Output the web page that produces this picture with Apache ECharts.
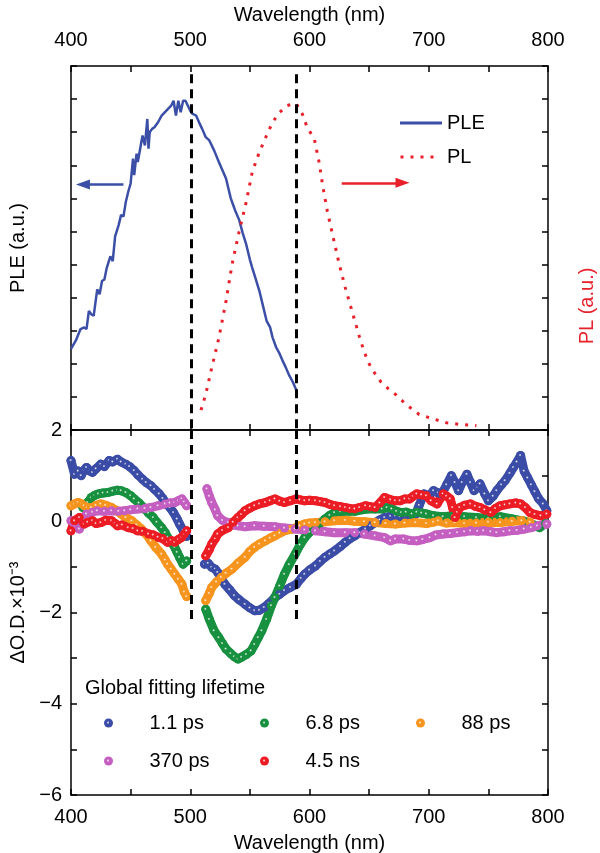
<!DOCTYPE html>
<html>
<head>
<meta charset="utf-8">
<script src="https://cdn.jsdelivr.net/npm/echarts@6/dist/echarts.min.js"></script>
<style>html,body{margin:0;padding:0;background:#fff}#c{width:600px;height:853px}</style>
</head>
<body>
<div id="c"></div>
<script>
// ---------- Top panel data ----------
const pleWl = [400,404,408,411,413,415,417,419,422,424,426,428,430,433,435,437,440,442,444,446,448,450,452,453,455,456,458,460,462,464,465,466,468,470,473,476,480,484,486,488,490,492,494,496,498,500,502,505,508,510,513,516,520,524,527,530,532,534,536,538,541,544,547,550,552,555,558,561,564,567,569,572,575,578,580,583,586,589];
const pleVal = [2.45,2.7,3.05,3.1,3.05,3.6,3.5,3.45,4.25,4.1,4.5,4.55,4.9,5.25,5.1,5.85,6.2,6.5,6.45,6.9,7.2,7.45,8.2,7.7,8.35,8.1,8.5,8.9,8.6,9.4,8.5,9.0,9.1,9.15,9.3,9.5,9.65,9.8,9.95,9.5,9.95,9.6,9.95,9.95,9.8,9.65,9.55,9.5,9.25,9.1,8.85,8.75,8.45,8.1,7.85,7.6,7.3,7.0,6.8,6.6,6.35,5.95,5.6,5.15,4.9,4.55,4.2,3.75,3.3,3.1,2.8,2.5,2.3,2.05,1.9,1.65,1.45,1.2];
const plWl = [509,513,518,524,530,535,541,547,552,558,564,569,575,581,586,589,594,598,604,608,611,615,620,625,630,634,638,642,646,650,655,660,666,673,681,692,704,715,726,740];
const plVal = [0.6,1.08,1.88,2.78,3.9,4.99,6.0,6.9,7.8,8.4,8.9,9.3,9.6,9.8,9.85,9.86,9.55,9.15,8.8,8.1,7.4,6.6,5.8,5.0,4.3,3.8,3.3,2.8,2.35,2.0,1.7,1.45,1.25,1.05,0.77,0.47,0.33,0.22,0.17,0.13];

// ---------- Bottom panel data (two segments each, gap near pump) ----------
const blueWl1 = [400,403,406,408.5,411,413,416,418,421,425,428,432,435,439,442,446,449,453,456,460,463,467,470,474,477,480,483,486,489,491,494,497];
const blueOd1 = [1.33,1.03,1.1,1.0,1.12,1.18,1.1,1.07,1.15,1.25,1.2,1.33,1.3,1.36,1.3,1.25,1.2,1.11,1.02,0.92,0.85,0.78,0.7,0.6,0.5,0.38,0.3,0.19,0.05,-0.06,-0.2,-0.33];
const blueWl2 = [512,515,518,521,523,526,529,533,537,541,546,550,554,558,562,566,571,575,579,584,589,593,596,600,605,609,613,617,621,626,630,634,638,642,647,651,655,659,663,668,672,676,680,684,689,692,696,700,704,708,711,715,719,722,725,728,732,735,738,741,743,747,750,754,757,761,764,768,771,774,777,780,783,786,789,792,796,799];
const blueOd2 = [-0.94,-0.92,-1.01,-1.05,-1.12,-1.25,-1.38,-1.5,-1.63,-1.72,-1.82,-1.9,-1.96,-1.95,-1.89,-1.8,-1.67,-1.6,-1.52,-1.45,-1.38,-1.25,-1.16,-1.07,-0.98,-0.88,-0.79,-0.72,-0.65,-0.55,-0.46,-0.38,-0.32,-0.25,-0.17,-0.1,-0.03,0.03,0.08,0.11,0.12,0.1,0.12,0.15,0.16,0.35,0.6,0.55,0.67,0.62,0.6,0.8,1.0,0.85,0.67,0.85,1.03,0.85,0.67,0.75,0.82,0.6,0.45,0.55,0.67,0.8,0.89,1.05,1.18,1.3,1.44,1.1,0.95,0.8,0.65,0.5,0.38,0.23];

const greenWl1 = [410,414,417,420,423,427,431,435,439,442,446,450,453,457,462,465,469,472,476,479,481,484,487,489,491,494,497];
const greenOd1 = [0.3,0.41,0.52,0.57,0.6,0.62,0.63,0.66,0.68,0.67,0.63,0.56,0.49,0.4,0.27,0.18,0.08,-0.02,-0.14,-0.25,-0.35,-0.45,-0.57,-0.68,-0.79,-0.94,-0.87];
const greenWl2 = [513,516,520,524,527,530,534,537,540,543,547,551,554,557,560,564,568,571,575,579,583,588,592,596,600,605,609,613,617,621,626,630,634,638,644,649,655,661,665,669,673,677,681,686,690,694,698,704,712,720,730,740,750,760,770,780,788,793,798];
const greenOd2 = [-1.93,-2.15,-2.4,-2.55,-2.68,-2.8,-2.9,-2.97,-3.02,-2.98,-2.92,-2.84,-2.7,-2.55,-2.4,-2.15,-1.85,-1.67,-1.42,-1.16,-0.95,-0.72,-0.52,-0.36,-0.24,-0.14,-0.04,0.05,0.13,0.19,0.21,0.22,0.22,0.22,0.25,0.27,0.27,0.27,0.3,0.27,0.22,0.19,0.2,0.16,0.2,0.18,0.16,0.12,0.1,0.12,0.1,0.08,0.06,0.1,0.05,0.0,-0.08,-0.14,-0.05];

const orangeWl1 = [400,403,406,409,411,414,417,421,425,429,434,438,442,446,451,455,459,463,467,471,476,479,481,484,487,490,493,495,497];
const orangeOd1 = [0.34,0.38,0.41,0.38,0.34,0.3,0.3,0.35,0.38,0.35,0.3,0.24,0.16,0.08,0.01,-0.08,-0.17,-0.28,-0.43,-0.57,-0.72,-0.85,-0.94,-1.05,-1.16,-1.27,-1.38,-1.55,-1.65];
const orangeWl2 = [513,516,518,522,526,530,535,540,546,550,554,558,563,567,571,575,579,584,588,592,596,600,605,613,621,630,638,646,655,664,672,680,689,698,704,708,715,722,730,740,750,760,770,778,785];
const orangeOd2 = [-1.74,-1.58,-1.45,-1.33,-1.23,-1.14,-1.05,-0.92,-0.79,-0.66,-0.57,-0.5,-0.43,-0.37,-0.32,-0.26,-0.21,-0.18,-0.15,-0.1,-0.06,-0.04,-0.03,-0.01,0.01,0.02,0.0,-0.01,-0.03,-0.05,-0.06,-0.04,-0.03,-0.05,-0.02,0.01,-0.04,-0.03,-0.05,-0.04,-0.02,-0.03,0.0,0.01,-0.02];

const purpleWl1 = [400,403,407,410,413,418,422,428,434,440,445,450,456,462,467,473,479,483,487,490,493,495,497];
const purpleOd1 = [0.01,-0.08,-0.17,0.05,0.16,0.2,0.23,0.22,0.23,0.22,0.23,0.25,0.27,0.28,0.3,0.34,0.38,0.4,0.41,0.45,0.49,0.42,0.34];
const purpleWl2 = [514,516,518,521,523,527,532,536,540,546,554,562,571,579,588,596,605,613,621,630,638,646,655,663,668,672,679,684,690,695,701,706,712,718,724,730,735,741,746,752,757,763,768,774,780,786,791,799];
const purpleOd2 = [0.71,0.55,0.41,0.25,0.12,0.02,-0.03,-0.08,-0.1,-0.12,-0.1,-0.11,-0.12,-0.15,-0.17,-0.19,-0.21,-0.23,-0.25,-0.25,-0.25,-0.28,-0.32,-0.36,-0.43,-0.39,-0.39,-0.42,-0.43,-0.4,-0.36,-0.3,-0.28,-0.27,-0.25,-0.23,-0.21,-0.22,-0.21,-0.23,-0.25,-0.23,-0.21,-0.2,-0.17,-0.14,-0.1,-0.06];

const redWl1 = [400,403,407,411,414,418,421,425,429,434,437,439,443,448,452,456,460,465,469,473,477,481,484,487,490,493,495,497];
const redOd1 = [-0.21,0.01,0.08,-0.06,-0.02,0.01,-0.05,-0.03,0.02,0.01,-0.05,-0.1,-0.08,-0.14,-0.16,-0.21,-0.22,-0.28,-0.3,-0.35,-0.38,-0.46,-0.42,-0.46,-0.4,-0.35,-0.28,-0.21];
const redWl2 = [513,516,518,521,523,527,532,536,540,543,546,550,554,558,563,567,571,575,579,584,589,592,596,600,605,609,613,617,621,626,630,634,638,642,647,651,655,659,663,668,672,676,680,684,687,690,694,698,702,707,712,715,718,720,722,724,726,730,735,739,743,747,752,756,760,764,768,773,777,781,785,789,794,799];
const redOd2 = [-0.76,-0.62,-0.5,-0.38,-0.28,-0.2,-0.14,-0.02,0.08,0.15,0.23,0.29,0.34,0.38,0.41,0.45,0.49,0.44,0.41,0.45,0.49,0.47,0.45,0.46,0.45,0.43,0.41,0.37,0.34,0.32,0.3,0.28,0.27,0.3,0.34,0.32,0.3,0.4,0.52,0.47,0.45,0.45,0.49,0.49,0.55,0.6,0.58,0.56,0.45,0.38,0.6,0.55,0.49,0.3,0.08,0.2,0.3,0.35,0.38,0.33,0.3,0.25,0.19,0.28,0.34,0.36,0.38,0.4,0.38,0.3,0.19,0.15,0.12,0.16];

// ---------- Labels ----------
const lifetimes = ['1.1 ps','6.8 ps','88 ps','370 ps','4.5 ns'];
const topLegend = ['PLE','PL'];
const dashWl = [501, 589];

const FONT = 'Liberation Sans, Arial, Helvetica, sans-serif';
const FS = 20;
const BLUE = '#3a4ca6', GREEN = '#17903f', ORANGE = '#f7941e', PURPLE = '#c45ec0', RED = '#ec1c24';
const LINE_BLUE = '#3b4fa6', LINE_RED = '#e8202a';

function zip(xs, ys){ return xs.map((x,i)=>[x, ys[i]]); }
function seg(x1,y1,x2,y2){ return zip(x1,y1).concat([[505, null]]).concat(zip(x2,y2)); }
function bead(c){
  return {type:'radial', x:0.45, y:0.45, r:0.55, colorStops:[
    {offset:0, color:'rgba(255,255,255,0.95)'},
    {offset:0.3, color:c},
    {offset:1, color:c}]};
}
function odSeries(name, color, data){
  return {
    name, type:'line', xAxisIndex:2, yAxisIndex:2, data,
    connectNulls:false, showSymbol:true, showAllSymbol:true,
    symbol:'circle', symbolSize:9,
    itemStyle:{color:bead(color), borderWidth:0},
    lineStyle:{color, width:9, cap:'round', join:'round'},
    color, emphasis:{disabled:true}
  };
}
const minus = v => v < 0 ? '\u2212' + (-v) : String(v);
const axisLineStyle = {show:true, onZero:false, lineStyle:{color:'#000', width:1.5}};
const tick = {show:true, inside:true, length:6, lineStyle:{color:'#000', width:1.5}};
const lblStyle = {color:'#000', fontSize:FS, fontFamily:FONT};

function xAx(grid, pos, labels, name){
  return {
    type:'value', gridIndex:grid, position:pos, min:400, max:800, interval:50,
    axisLine:axisLineStyle, axisTick:tick, splitLine:{show:false},
    axisLabel: labels ? Object.assign({margin: pos==='top' ? 16 : 12, formatter:v=> v%100===0 ? String(v) : ''}, lblStyle) : {show:false},
    name: name || '', nameLocation:'middle', nameGap: pos==='top' ? 41 : 38,
    nameTextStyle:{color:'#000', fontSize:FS, fontFamily:FONT}
  };
}
function bottomLegend(name, left, top){
  return {data:[{name, icon:'circle'}], left, top, itemWidth:72, itemHeight:9,
    selectedMode:false, textStyle:lblStyle};
}

const dashLine = {color:'#000', type:[9,6], width:3};

const option = {
  animation:false,
  backgroundColor:'#fff',
  textStyle:{fontFamily:FONT},
  grid:[
    {left:71, right:52, top:66, height:364, outerBoundsMode:'none', containLabel:false},
    {left:71, right:52, top:430, height:365, outerBoundsMode:'none', containLabel:false}
  ],
  title:{text:'Global fitting lifetime', left:80, top:673,
    textStyle:{fontSize:FS, fontWeight:'normal', color:'#000', fontFamily:FONT}},
  legend:[
    {data:[
        {name:topLegend[0], icon:'rect'},
        {name:topLegend[1], icon:'path://M0,0h3v3h-3zM10,0h3v3h-3zM20,0h3v3h-3zM30,0h3v3h-3zM41,1h0.02v0.02h-0.02z'}],
      orient:'vertical', left:395, top:108, itemWidth:42, itemHeight:3, itemGap:14,
      textStyle:{fontSize:FS, color:'#000', fontFamily:FONT}, selectedMode:false},
    bottomLegend(lifetimes[0], 99, 708),
    bottomLegend(lifetimes[1], 255, 708),
    bottomLegend(lifetimes[2], 411, 708),
    bottomLegend(lifetimes[3], 99, 746),
    bottomLegend(lifetimes[4], 255, 746)
  ],
  graphic:[{
    type:'text', x:587, y:306, rotation:Math.PI/2,
    style:{text:'PL (a.u.)', fill:LINE_RED, fontSize:FS, fontFamily:FONT, textAlign:'center', textVerticalAlign:'middle'}
  }],
  xAxis:[
    xAx(0,'top',true,'Wavelength (nm)'),
    xAx(0,'bottom',false),
    xAx(1,'bottom',true,'Wavelength (nm)'),
    xAx(1,'top',false)
  ],
  yAxis:[
    {type:'value', gridIndex:0, position:'left', min:0, max:11, interval:1,
      axisLine:axisLineStyle, axisTick:tick, axisLabel:{show:false}, splitLine:{show:false},
      name:'PLE (a.u.)', nameLocation:'middle', nameGap:43, nameRotate:90,
      nameTextStyle:{color:'#000', fontSize:FS, fontFamily:FONT}},
    {type:'value', gridIndex:0, position:'right', min:0, max:11, interval:1,
      axisLine:axisLineStyle, axisTick:tick, axisLabel:{show:false}, splitLine:{show:false}},
    {type:'value', gridIndex:1, position:'left', min:-6, max:2, interval:1,
      axisLine:axisLineStyle, axisTick:tick, splitLine:{show:false},
      axisLabel:Object.assign({margin:9, formatter:v=> v%2===0 ? minus(v) : ''}, lblStyle),
      name:'\u0394O.D.\u00d710\u207b\u00b3', nameLocation:'middle', nameGap:41, nameRotate:90,
      nameTextStyle:{color:'#000', fontSize:FS, fontFamily:FONT}},
    {type:'value', gridIndex:1, position:'right', min:-6, max:2, interval:1,
      axisLine:axisLineStyle, axisTick:tick, axisLabel:{show:false}, splitLine:{show:false}}
  ],
  series:[
    {name:'PLE', type:'line', xAxisIndex:0, yAxisIndex:0, data:zip(pleWl, pleVal),
      showSymbol:false, symbol:'none', color:LINE_BLUE,
      lineStyle:{color:LINE_BLUE, width:2.5}, emphasis:{disabled:true},
      markLine:{silent:true, animation:false, label:{show:false},
        data:[[{coord:[444,7.42], symbol:'none'},{coord:[410,7.42], symbol:'triangle', symbolSize:[10,14]}]],
        lineStyle:{color:LINE_BLUE, width:2.5, type:'solid'}}},
    {name:'PL', type:'line', xAxisIndex:0, yAxisIndex:0, data:zip(plWl, plVal),
      showSymbol:false, symbol:'none', color:LINE_RED,
      lineStyle:{color:LINE_RED, width:3, type:[3,7], cap:'butt'}, emphasis:{disabled:true},
      markLine:{silent:true, animation:false, label:{show:false},
        data:[[{coord:[627,7.47], symbol:'none'},{coord:[678,7.47], symbol:'triangle', symbolSize:[10,14]}]],
        lineStyle:{color:LINE_RED, width:2.5, type:'solid'}}},
    {name:'dashTop', type:'line', xAxisIndex:0, yAxisIndex:0, data:[[dashWl[0], 5]], symbol:'none', lineStyle:{width:0},
      z:5, markLine:{silent:true, animation:false, label:{show:false}, symbol:['none','none'], lineStyle:dashLine,
        data: dashWl.map(w=>[{coord:[w,10.75]},{coord:[w,0]}])}},
    odSeries(lifetimes[0], BLUE, seg(blueWl1, blueOd1, blueWl2, blueOd2)),
    odSeries(lifetimes[1], GREEN, seg(greenWl1, greenOd1, greenWl2, greenOd2)),
    odSeries(lifetimes[2], ORANGE, seg(orangeWl1, orangeOd1, orangeWl2, orangeOd2)),
    odSeries(lifetimes[3], PURPLE, seg(purpleWl1, purpleOd1, purpleWl2, purpleOd2)),
    odSeries(lifetimes[4], RED, seg(redWl1, redOd1, redWl2, redOd2)),
    {name:'dashBottom', type:'line', xAxisIndex:2, yAxisIndex:2, data:[[dashWl[0], 0]], symbol:'none', lineStyle:{width:0},
      z:5, markLine:{silent:true, animation:false, label:{show:false}, symbol:['none','none'], lineStyle:dashLine,
        data: dashWl.map(w=>[{coord:[w,2]},{coord:[w,-2.15]}])}}
  ]
};
const chart = echarts.init(document.getElementById('c'), null, {renderer:'canvas'});
chart.setOption(option);
</script>
</body>
</html>
